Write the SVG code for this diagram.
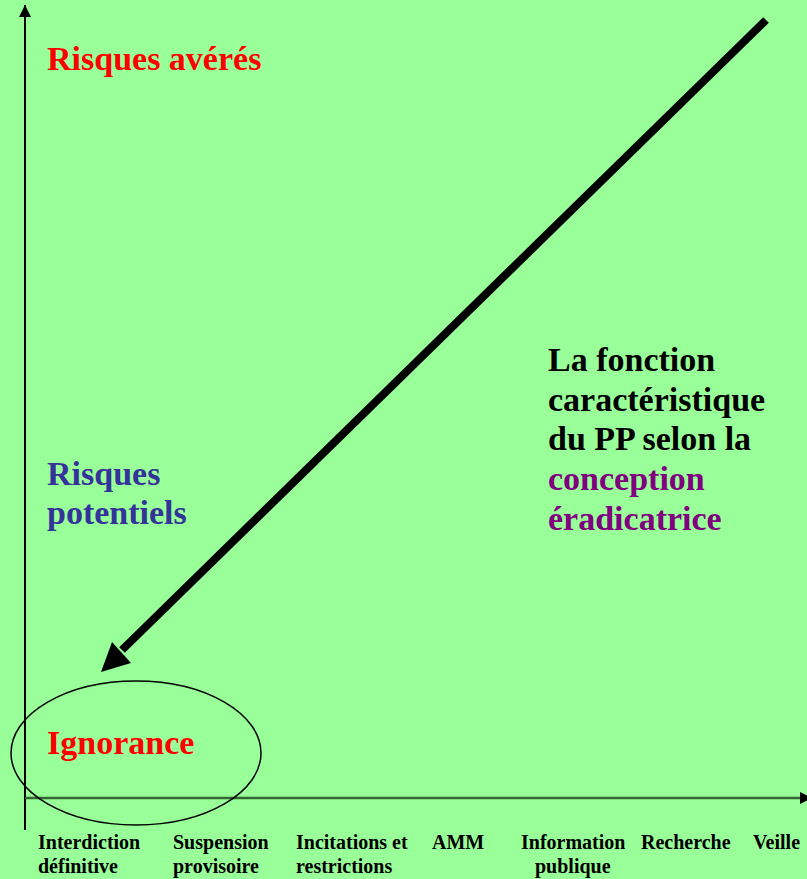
<svg xmlns="http://www.w3.org/2000/svg" width="807" height="879" viewBox="0 0 807 879">
<style>
text { font-family: "Liberation Serif", "Times New Roman", serif; font-weight: bold; }
.big { font-size: 34px; }
.lbl { font-size: 20px; fill: #000; }
.red { fill: #ff0000; }
.blue { fill: #333399; }
.purple { fill: #800080; }
.black { fill: #000; }
</style>
<defs>
<marker id="axhead" markerWidth="12" markerHeight="12" refX="12" refY="6" orient="auto" markerUnits="userSpaceOnUse">
<path d="M0,0 L12,6 L0,12 Z" fill="#000"/>
</marker>
</defs>
<rect x="0" y="0" width="807" height="879" fill="#99ff99"/>
<g id="connectors">
<line x1="25" y1="830" x2="25" y2="5" stroke="#000" stroke-width="2" marker-end="url(#axhead)"/>
<line x1="25" y1="798" x2="812" y2="798" stroke="#336633" stroke-width="2.5" marker-end="url(#axhead)"/>
<line x1="766" y1="20" x2="122" y2="650" stroke="#000" stroke-width="8"/>
<polygon points="101,672 112,642 131,663" fill="#000"/>
</g>
<g id="ignorance">
<ellipse cx="136" cy="753" rx="125" ry="72" fill="none" stroke="#000" stroke-width="1.5"/>
<text class="big red" x="47" y="754">Ignorance</text>
</g>
<g id="risques-averes">
<text class="big red" x="47" y="70">Risques avérés</text>
</g>
<g id="risques-potentiels">
<text class="big blue" x="47" y="485">Risques</text>
<text class="big blue" x="47" y="524">potentiels</text>
</g>
<g id="fonction">
<text class="big black" x="548" y="371">La fonction</text>
<text class="big black" x="548" y="411">caractéristique</text>
<text class="big black" x="548" y="450">du PP selon la</text>
<text class="big purple" x="548" y="490">conception</text>
<text class="big purple" x="548" y="530">éradicatrice</text>
</g>
<g id="x-labels">
<text class="lbl" x="38" y="849">Interdiction</text>
<text class="lbl" x="38" y="873">définitive</text>
<text class="lbl" x="173" y="849">Suspension</text>
<text class="lbl" x="173" y="873">provisoire</text>
<text class="lbl" x="296" y="849">Incitations et</text>
<text class="lbl" x="296" y="873">restrictions</text>
<text class="lbl" x="432" y="849">AMM</text>
<text class="lbl" x="521" y="849">Information</text>
<text class="lbl" x="535" y="873">publique</text>
<text class="lbl" x="641" y="849">Recherche</text>
<text class="lbl" x="753" y="849">Veille</text>
</g>
</svg>
